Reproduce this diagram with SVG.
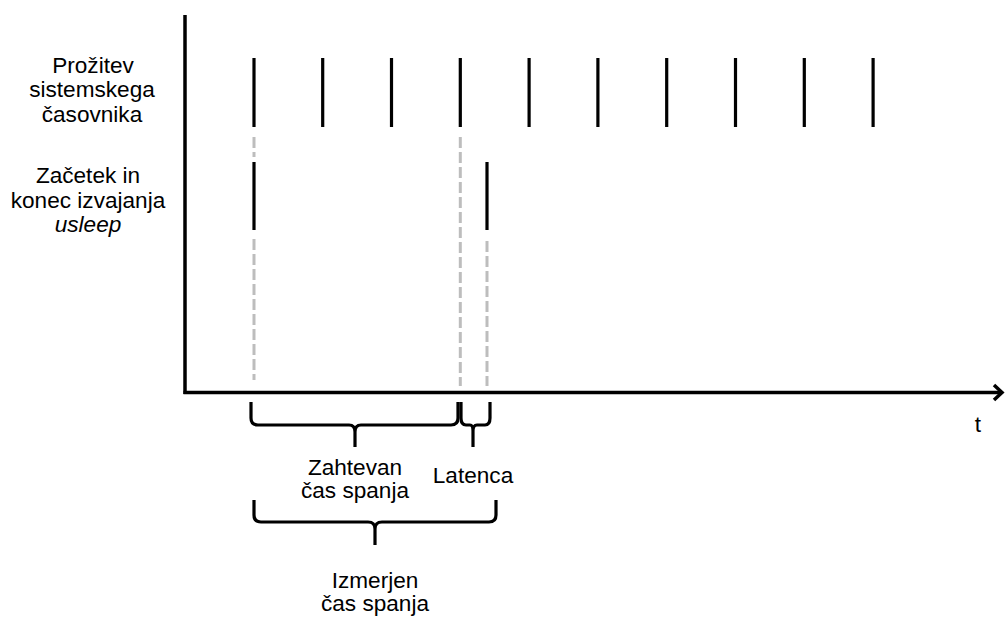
<svg xmlns="http://www.w3.org/2000/svg" width="1005" height="619" viewBox="0 0 1005 619">
<style>
.t{font-family:"Liberation Sans",Arial,sans-serif;font-size:22.6px;fill:#000;text-anchor:middle}
.tick{stroke:#000;stroke-width:3.2}
.dash{stroke:#bdbdbd;stroke-width:3;stroke-dasharray:11 4}
.br{fill:none;stroke:#000;stroke-width:3.2;stroke-linejoin:round}
.ax{stroke:#000;stroke-width:3.5;fill:none}
</style>
<rect width="1005" height="619" fill="#fff"/>
<g id="axes">
<line class="ax" x1="185" y1="15" x2="185" y2="394"/>
<line class="ax" x1="183.5" y1="392.5" x2="1002" y2="392.5"/>
<polyline class="ax" points="994,385 1002,392.5 994,400"/>
<text class="t" x="978" y="432">t</text>
</g>
<g id="labels">
<text class="t" x="93" y="73">Prožitev</text>
<text class="t" x="92" y="97">sistemskega</text>
<text class="t" x="92" y="122">časovnika</text>
<text class="t" x="88" y="183">Začetek in</text>
<text class="t" x="88" y="208">konec izvajanja</text>
<text class="t" x="88" y="232" font-style="italic">usleep</text>
</g>
<g id="clock-ticks">
<line class="tick" x1="254" y1="58" x2="254" y2="127"/>
<line class="tick" x1="322.7" y1="58" x2="322.7" y2="127"/>
<line class="tick" x1="391.5" y1="58" x2="391.5" y2="127"/>
<line class="tick" x1="460.3" y1="58" x2="460.3" y2="127"/>
<line class="tick" x1="529.1" y1="58" x2="529.1" y2="127"/>
<line class="tick" x1="597.9" y1="58" x2="597.9" y2="127"/>
<line class="tick" x1="666.7" y1="58" x2="666.7" y2="127"/>
<line class="tick" x1="735.5" y1="58" x2="735.5" y2="127"/>
<line class="tick" x1="804.3" y1="58" x2="804.3" y2="127"/>
<line class="tick" x1="873.1" y1="58" x2="873.1" y2="127"/>
</g>
<g id="usleep-ticks">
<line class="tick" x1="254" y1="162" x2="254" y2="230"/>
<line class="tick" x1="487" y1="162" x2="487" y2="230"/>
</g>
<g id="connectors">
<line class="dash" x1="254" y1="137" x2="254" y2="157"/>
<line class="dash" x1="254" y1="239" x2="254" y2="380"/>
<line class="dash" x1="460.3" y1="137" x2="460.3" y2="386"/>
<line class="dash" x1="487" y1="241" x2="487" y2="386"/>
</g>
<g id="brace-zahtevan">
<path class="br" d="M251,402 V418 Q251,425 258,425 H349 Q355,425 355,432 V447 M355,432 Q355,425 361,425 H451 Q458,425 458,418 V402"/>
<text class="t" x="355" y="475">Zahtevan</text>
<text class="t" x="355" y="498">čas spanja</text>
</g>
<g id="brace-latenca">
<path class="br" d="M461,402 V418 Q461,425 466,425 H470 Q473,425 473,431 V447 M473,431 Q473,425 477,425 H485 Q490,425 490,418 V402"/>
<text class="t" x="473" y="483">Latenca</text>
</g>
<g id="brace-izmerjen">
<path class="br" d="M254,500 V515 Q254,522 261,522 H368 Q375,522 375,529 V545 M375,529 Q375,522 382,522 H489 Q496,522 496,515 V500"/>
<text class="t" x="375" y="588">Izmerjen</text>
<text class="t" x="375" y="611">čas spanja</text>
</g>
</svg>
